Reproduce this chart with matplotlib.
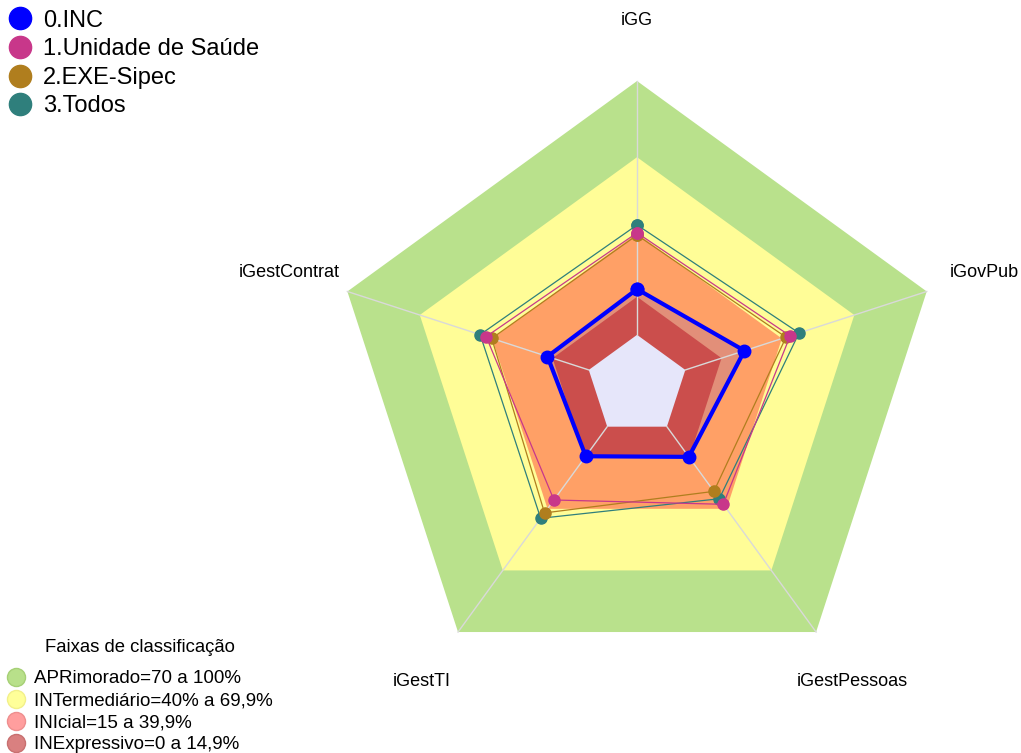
import matplotlib.pyplot as plt
from matplotlib.lines import Line2D
import numpy as np

plt.rcParams["font.family"] = ["Liberation Sans", "DejaVu Sans"]

# Eixos do radar (sentido horário a partir do topo)
AXES = ["iGG", "iGovPub", "iGestPessoas", "iGestTI", "iGestContrat"]

# Séries (valores em %)
SERIES = ["0.INC", "1.Unidade de Saúde", "2.EXE-Sipec", "3.Todos"]
INC = [18.0, 24.5, 14.7, 14.4, 17.1]
UNIDADE = [40.2, 43.4, 37.8, 35.7, 42.5]
SIPEC = [39.3, 41.7, 31.5, 42.0, 40.2]
TODOS = [43.3, 47.1, 35.1, 44.6, 45.0]
SERIES_COLORS = ["#0000FF", "#C8378A", "#B07E1E", "#2F7F7C"]

# Faixas de classificação
BAND_LIMITS = [100, 70, 40, 15]
BAND_FILL = ["#B9E18C", "#FFFD97", "#FFA066", "#CB4E4C"]
BAND_LABELS = [
    "APRimorado=70 a 100%",
    "INTermediário=40% a 69,9%",
    "INIcial=15 a 39,9%",
    "INExpressivo=0 a 14,9%",
]
BAND_LEGEND = ["#B8E08A", "#FFFF99", "#FF9E9E", "#D98080"]
BAND_EDGE = ["#A6D076", "#F2F08A", "#EE8E8E", "#C87070"]

R_MIN = -20  # deslocamento do centro (estilo fmsb)

angles = np.linspace(0, 2 * np.pi, len(AXES), endpoint=False)
closed = np.append(angles, angles[0])


def close(values):
    return list(values) + [values[0]]


fig = plt.figure(figsize=(10.21, 7.53), dpi=100)
ax = fig.add_axes([0.3256, 0.0834, 0.5967, 0.809], projection="polar")
ax.set_theta_offset(np.pi / 2)
ax.set_theta_direction(-1)
ax.set_ylim(R_MIN, 100)
ax.axis("off")

# Faixas de fundo
for i, (lim, col) in enumerate(zip(BAND_LIMITS, BAND_FILL)):
    if lim == 15:
        # área do INC que ultrapassa a faixa inexpressiva
        ax.fill(closed, close(INC), color="#E28F79", lw=0, zorder=1 + i)
    ax.fill(closed, [lim] * 6, color=col, lw=0, zorder=1 + i,
            clip_on=False)
ax.fill(closed, [0] * 6, color="#E6E6FA", lw=0, zorder=6)

# Linhas radiais
for a in angles:
    ax.plot([a, a], [0, 100], color="#D9D9D9", lw=1, zorder=7,
            clip_on=False)

# Séries
data = [INC, UNIDADE, SIPEC, TODOS]
for k in [3, 2, 1, 0]:
    lw = 3 if k == 0 else 0.9
    ms = 9 if k == 0 else 8
    ax.plot(closed, close(data[k]), color=SERIES_COLORS[k], lw=lw,
            marker="o", markersize=ms, zorder=10 + (3 - k), clip_on=False)

# Rótulos dos eixos
for a, lab in zip(angles, AXES):
    ax.text(a, 124, lab, ha="center", va="center", fontsize=13)

# Legenda das séries
h1 = [Line2D([], [], ls="", marker="o", markersize=16, color=c)
      for c in SERIES_COLORS]
fig.legend(h1, SERIES, loc="upper left", bbox_to_anchor=(-0.0078, 1.006),
           frameon=False, fontsize=17, handletextpad=0.35,
           labelspacing=0.28, borderaxespad=0.2, handlelength=1.2)

# Legenda das faixas
fig.text(140 / 1021, 1 - 648 / 753, "Faixas de classificação",
         ha="center", va="center", fontsize=13.3)
h2 = [Line2D([], [], ls="", marker="o", markersize=13,
             markerfacecolor=c, markeredgecolor=e)
      for c, e in zip(BAND_LEGEND, BAND_EDGE)]
fig.legend(h2, BAND_LABELS, loc="upper left",
           bbox_to_anchor=(6 / 1021, 1 - 670 / 753),
           frameon=False, fontsize=13.5, handletextpad=0.37,
           labelspacing=0.26, borderaxespad=0.0, borderpad=0.0,
           handlelength=1.1)

fig.savefig("out.png", dpi=100)
